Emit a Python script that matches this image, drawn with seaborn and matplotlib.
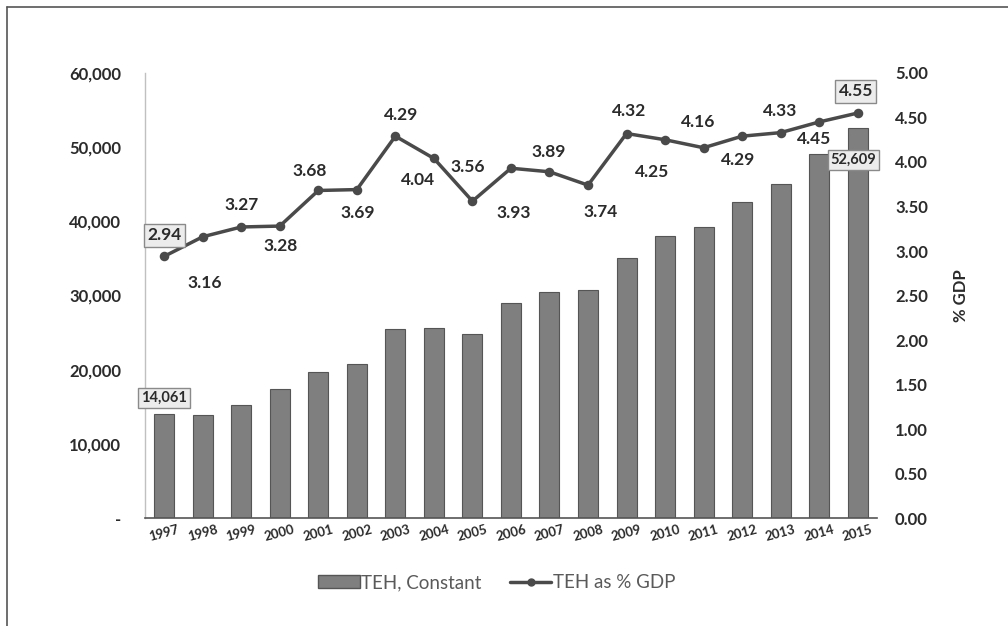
import matplotlib
matplotlib.use("Agg")
import matplotlib.pyplot as plt
import matplotlib.ticker as mticker
from matplotlib.patches import Patch
from matplotlib.lines import Line2D
import pandas as pd
import seaborn as sns

# data
years = [str(y) for y in range(1997, 2016)]
teh_constant = [14061, 13900, 15280, 17390, 19640, 20720, 25530, 25660, 24850,
                28990, 30470, 30740, 35000, 38020, 39190, 42650, 45030, 49030, 52609]
teh_pct_gdp = [2.94, 3.16, 3.27, 3.28, 3.68, 3.69, 4.29, 4.04, 3.56, 3.93,
               3.89, 3.74, 4.32, 4.25, 4.16, 4.29, 4.33, 4.45, 4.55]

# label offsets (pixels) for the % GDP labels, as placed in the original
pct_offsets = [(0, 21), (2, -46), (0, 22), (1, -20), (-9, 19), (1, -23), (6, 21),
               (-16, -22), (-5, 34), (3, -45), (-1, 20), (13, -27), (3, 23),
               (-13, -32), (-5, 26), (-4, -24), (0, 22), (-5, -17), (-2, 22)]

df = pd.DataFrame({"year": years, "teh": teh_constant, "pct": teh_pct_gdp})

sns.set_theme(style="white")
plt.rcParams["font.family"] = ["Lato", "DejaVu Sans"]

text_col = "#2b2b2b"
bar_col = "#7f7f7f"
line_col = "#4a4a4a"

fig = plt.figure(figsize=(10.08, 6.26), dpi=100)
ax = fig.add_axes([0.1438, 0.1725, 0.7262, 0.7109])

sns.barplot(data=df, x="year", y="teh", ax=ax, color=bar_col, width=0.52,
            edgecolor="#555555", linewidth=0.8, saturation=1)

ax2 = ax.twinx()
sns.pointplot(data=df, x="year", y="pct", ax=ax2, color=line_col, markers="o",
              markersize=5, linewidth=2.5, errorbar=None)

ax.set_xlim(-0.5, 18.5)
ax.set_ylim(0, 60000)
ax.set_yticks(range(0, 60001, 10000))
ax.yaxis.set_major_formatter(mticker.FuncFormatter(
    lambda v, p: "-" if v == 0 else f"{v:,.0f}"))
ax2.set_ylim(0, 5)
ax2.set_yticks([i * 0.5 for i in range(11)])
ax2.yaxis.set_major_formatter(mticker.FormatStrFormatter("%.2f"))

ax.set_xlabel("")
ax.set_ylabel("")
ax2.set_xlabel("")
ax2.set_ylabel("% GDP", fontsize=12, fontweight="bold", color=text_col, labelpad=18)

ax.tick_params(axis="y", length=0, pad=17, labelsize=12, labelcolor=text_col)
ax.tick_params(axis="x", length=0, pad=4, labelsize=9.5, labelcolor=text_col)
ax2.tick_params(axis="y", length=0, pad=13, labelsize=12, labelcolor=text_col)
for lab in ax.get_yticklabels() + ax2.get_yticklabels() + ax.get_xticklabels():
    lab.set_fontweight("bold")
for lab in ax.get_xticklabels():
    lab.set_rotation(15)

for a in (ax, ax2):
    for s in ("top", "right"):
        a.spines[s].set_visible(False)
ax2.spines["left"].set_visible(False)
ax2.spines["bottom"].set_visible(False)
ax.spines["left"].set_color("#c0c0c0")
ax.spines["left"].set_linewidth(1.0)
ax.spines["bottom"].set_color("#555555")
ax.spines["bottom"].set_linewidth(1.2)

# % GDP labels
box = dict(boxstyle="square,pad=0.2", facecolor="#ececec", edgecolor="#8a8a8a", linewidth=1)
for i, (v, (dx, dy)) in enumerate(zip(teh_pct_gdp, pct_offsets)):
    ax2.annotate(f"{v:.2f}", (i, v), xytext=(dx, dy), textcoords="offset pixels",
                 ha="center", va="center", fontsize=12.5, fontweight="bold",
                 color=text_col, bbox=box if i in (0, len(years) - 1) else None,
                 zorder=5)

# first and last bar labels
ax.annotate(f"{teh_constant[0]:,}", (0, teh_constant[0]), xytext=(0, 16),
            textcoords="offset pixels", ha="center", va="center", fontsize=10.5,
            fontweight="bold", color=text_col, bbox=box)
ax.annotate(f"{teh_constant[-1]:,}", (len(years) - 1, teh_constant[-1]), xytext=(-4, -32),
            textcoords="offset pixels", ha="center", va="center", fontsize=10.5,
            fontweight="bold", color=text_col, bbox=box, zorder=6)

handles = [Patch(facecolor=bar_col, edgecolor="#555555"),
           Line2D([], [], color=line_col, lw=2.5, marker="o", markersize=5)]
fig.legend(handles, ["TEH, Constant", "TEH as % GDP"], loc="center",
           bbox_to_anchor=(0.493, 0.069), ncol=2, frameon=False, fontsize=13.5,
           labelcolor="#5a5a5a", handlelength=2.2, handletextpad=0.1, columnspacing=1.5)

# outer frame as in the source image
fig.add_artist(Line2D([7 / 1008, 7 / 1008], [0, 1 - 7 / 626], color="#555555", lw=1.2))
fig.add_artist(Line2D([7 / 1008, 1], [1 - 7 / 626, 1 - 7 / 626], color="#555555", lw=1.2))

fig.savefig("out.png", dpi=100)
